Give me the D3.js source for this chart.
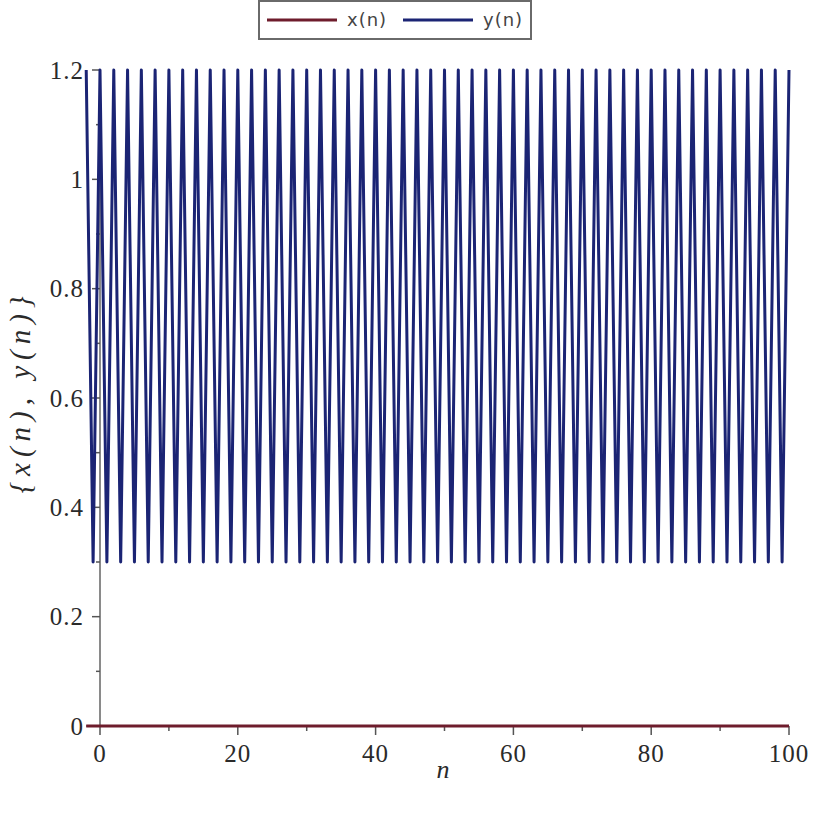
<!DOCTYPE html>
<html>
<head>
<meta charset="utf-8">
<script src="https://cdn.jsdelivr.net/npm/d3@7"></script>
<style>
  body { margin: 0; background: #fff; }
  svg { display: block; }
</style>
</head>
<body>
<svg id="chart" width="815" height="813"></svg>
<script>
// n runs from -2 to 100
var nValues = d3.range(-2, 101);
// x(n) sits on zero the whole time
var xSeries = [0,0,0,0,0,0,0,0,0,0,0,0,0,0,0,0,0,0,0,0,0,0,0,0,0,0,0,0,0,0,0,0,0,0,0,0,
  0,0,0,0,0,0,0,0,0,0,0,0,0,0,0,0,0,0,0,0,0,0,0,0,0,0,0,0,0,0,0,0,0,0,0,0,
  0,0,0,0,0,0,0,0,0,0,0,0,0,0,0,0,0,0,0,0,0,0,0,0,0,0,0,0,0,0,0];
// y(n) flips between 1.2 and 0.3
var ySeries = [1.2,0.3,1.2,0.3,1.2,0.3,1.2,0.3,1.2,0.3,1.2,0.3,1.2,0.3,1.2,0.3,1.2,0.3,
  1.2,0.3,1.2,0.3,1.2,0.3,1.2,0.3,1.2,0.3,1.2,0.3,1.2,0.3,1.2,0.3,1.2,0.3,
  1.2,0.3,1.2,0.3,1.2,0.3,1.2,0.3,1.2,0.3,1.2,0.3,1.2,0.3,1.2,0.3,1.2,0.3,
  1.2,0.3,1.2,0.3,1.2,0.3,1.2,0.3,1.2,0.3,1.2,0.3,1.2,0.3,1.2,0.3,1.2,0.3,
  1.2,0.3,1.2,0.3,1.2,0.3,1.2,0.3,1.2,0.3,1.2,0.3,1.2,0.3,1.2,0.3,1.2,0.3,
  1.2,0.3,1.2,0.3,1.2,0.3,1.2,0.3,1.2,0.3,1.2,0.3,1.2];
var xTicks = [0, 20, 40, 60, 80, 100];
var yTicks = [0, 0.2, 0.4, 0.6, 0.8, 1, 1.2];
var seriesNames = ["x(n)", "y(n)"];
var seriesColors = ["#6e1c2c", "#1b2474"];

var serif = "'Times New Roman', 'Liberation Serif', 'DejaVu Serif', serif";
var svg = d3.select("#chart");

var x = d3.scaleLinear().domain([0, 100]).range([100, 789]);
var y = d3.scaleLinear().domain([0, 1.2]).range([726, 70]);

// y axis (gray) with major and minor ticks to the left
var yAxisG = svg.append("g");
yAxisG.append("line")
  .attr("x1", x(0)).attr("x2", x(0))
  .attr("y1", y(0)).attr("y2", y(1.2))
  .attr("stroke", "#8a8a8a").attr("stroke-width", 2);
yAxisG.selectAll(".minor")
  .data(d3.range(1, 12, 2).map(function(i){ return i / 10; }))
  .enter().append("line")
  .attr("x1", x(0) - 4).attr("x2", x(0))
  .attr("y1", function(d){ return y(d); }).attr("y2", function(d){ return y(d); })
  .attr("stroke", "#555").attr("stroke-width", 1.5);
yAxisG.selectAll(".major")
  .data(yTicks)
  .enter().append("line")
  .attr("x1", x(0) - 8).attr("x2", x(0))
  .attr("y1", function(d){ return y(d); }).attr("y2", function(d){ return y(d); })
  .attr("stroke", "#555").attr("stroke-width", 1.5);
yAxisG.selectAll("text")
  .data(yTicks)
  .enter().append("text")
  .attr("x", 84)
  .attr("y", function(d){ return y(d); })
  .attr("dy", "0.35em")
  .attr("text-anchor", "end")
  .attr("font-family", serif)
  .attr("font-size", 25)
  .attr("letter-spacing", 1)
  .attr("fill", "#2a2a2a")
  .text(function(d){ return d; });

// x axis
var xAxisG = svg.append("g");
xAxisG.append("line")
  .attr("x1", x(-2)).attr("x2", x(100))
  .attr("y1", y(0)).attr("y2", y(0))
  .attr("stroke", "#8a8a8a").attr("stroke-width", 2);
xAxisG.selectAll(".minor")
  .data([10, 30, 50, 70, 90])
  .enter().append("line")
  .attr("x1", function(d){ return x(d); }).attr("x2", function(d){ return x(d); })
  .attr("y1", y(0)).attr("y2", y(0) + 5)
  .attr("stroke", "#555").attr("stroke-width", 1.5);
xAxisG.selectAll(".major")
  .data(xTicks)
  .enter().append("line")
  .attr("x1", function(d){ return x(d); }).attr("x2", function(d){ return x(d); })
  .attr("y1", y(0)).attr("y2", y(0) + 9)
  .attr("stroke", "#555").attr("stroke-width", 1.5);
xAxisG.selectAll("text")
  .data(xTicks)
  .enter().append("text")
  .attr("x", function(d){ return x(d); })
  .attr("y", 762)
  .attr("text-anchor", "middle")
  .attr("font-family", serif)
  .attr("font-size", 25)
  .attr("letter-spacing", 1)
  .attr("fill", "#2a2a2a")
  .text(function(d){ return d; });

// axis titles
svg.append("text")
  .attr("x", 443).attr("y", 778)
  .attr("text-anchor", "middle")
  .attr("font-family", serif)
  .attr("font-style", "italic")
  .attr("font-size", 26)
  .attr("fill", "#2a2a2a")
  .text("n");
svg.append("text")
  .attr("transform", "translate(30,392) rotate(-90)")
  .attr("text-anchor", "middle")
  .attr("font-family", serif)
  .attr("font-style", "italic")
  .attr("font-size", 29)
  .attr("letter-spacing", 6)
  .attr("fill", "#2a2a2a")
  .text("{x(n), y(n)}");

// the two series
var line = d3.line()
  .x(function(d, i){ return x(nValues[i]); })
  .y(function(d){ return y(d); });

[xSeries, ySeries].forEach(function(s, i){
  svg.append("path")
    .datum(s)
    .attr("d", line)
    .attr("fill", "none")
    .attr("stroke", seriesColors[i])
    .attr("stroke-width", 3)
    .attr("stroke-linejoin", "round");
});

// legend
var legend = svg.append("g");
legend.append("rect")
  .attr("x", 259).attr("y", 1).attr("width", 272).attr("height", 38)
  .attr("fill", "#fff").attr("stroke", "#6a6a6a").attr("stroke-width", 2);
var legendX = [267, 403];
seriesNames.forEach(function(name, i){
  legend.append("line")
    .attr("x1", legendX[i]).attr("x2", legendX[i] + 70)
    .attr("y1", 20).attr("y2", 20)
    .attr("stroke", seriesColors[i]).attr("stroke-width", 3);
  legend.append("text")
    .attr("x", legendX[i] + 80).attr("y", 26)
    .attr("font-family", "'DejaVu Sans', sans-serif")
    .attr("font-size", 18)
    .attr("letter-spacing", 1)
    .attr("fill", "#444")
    .text(name);
});
</script>
</body>
</html>
